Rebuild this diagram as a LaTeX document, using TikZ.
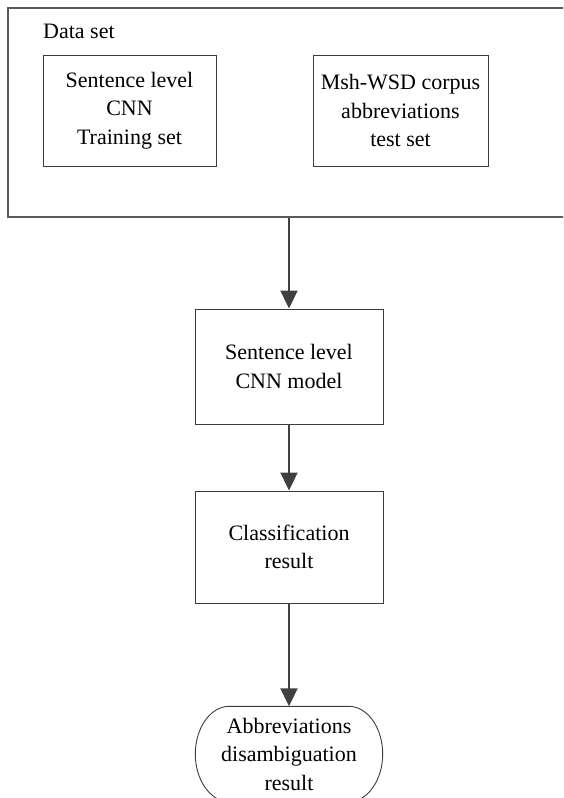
\documentclass[tikz,border=0pt]{standalone}
\usepackage{fontspec}
\setmainfont{Liberation Serif}
\usetikzlibrary{arrows.meta,calc}
\definecolor{linegray}{HTML}{3C3C3C}
\definecolor{framegray}{HTML}{5A5A5A}
\definecolor{arrowgray}{HTML}{404040}
\begin{document}
\begin{tikzpicture}[x=1pt,y=-1pt,
  every node/.style={font=\fontsize{22}{28.5}\selectfont, text=black},
  box/.style={draw=linegray, line width=0.9pt, inner sep=0pt, align=center},
  flow/.style={draw=arrowgray, line width=2pt,
    -{Triangle[length=18pt,width=17pt]}}]
\useasboundingbox (0,0) rectangle (563,798);
\clip (0,0) rectangle (563,798);

% outer data-set frame, running off the right edge
\node[draw=framegray, line width=1.2pt, minimum width=612pt, minimum height=209pt,
      inner sep=0pt] (dataset) at (314,112.5) {};
\node[anchor=base west, inner sep=0pt] (dslabel) at (43,38) {Data set};

\node[box, minimum width=173pt, minimum height=111pt] (train) at (129.5,110.5)
  {Sentence level\\CNN\\Training set};
\node[box, minimum width=175pt, minimum height=111pt] (test) at (400.5,110.5)
  {Msh-WSD corpus\\abbreviations\\test set};

\node[box, minimum width=188pt, minimum height=115pt] (model) at (289,366.5)
  {Sentence level\\CNN model};
\node[box, minimum width=188pt, minimum height=112pt] (result) at (289,547)
  {Classification\\result};

% terminal shape with elliptical ends
\node[inner sep=0pt, minimum width=187pt, minimum height=95pt, align=center]
  (final) at (289,754) {Abbreviations\\disambiguation\\result};
\coordinate (tl) at ($(final.north west)+(34,0)$);
\coordinate (tr) at ($(final.north east)+(-34,0)$);
\coordinate (bl) at ($(final.south west)+(34,0)$);
\coordinate (br) at ($(final.south east)+(-34,0)$);
\draw[linegray, line width=0.9pt]
  (tl) -- (tr)
  .. controls ($(tr)+(18.8,0)$) and ($(final.east)+(0,-26.2)$) .. (final.east)
  .. controls ($(final.east)+(0,26.2)$) and ($(br)+(18.8,0)$) .. (br)
  -- (bl)
  .. controls ($(bl)+(-18.8,0)$) and ($(final.west)+(0,26.2)$) .. (final.west)
  .. controls ($(final.west)+(0,-26.2)$) and ($(tl)+(-18.8,0)$) .. (tl) -- cycle;

\draw[flow] (dataset.south -| model.north) -- (model.north);
\draw[flow] (model.south) -- (result.north);
\draw[flow] (result.south) -- (final.north);
\end{tikzpicture}
\end{document}
